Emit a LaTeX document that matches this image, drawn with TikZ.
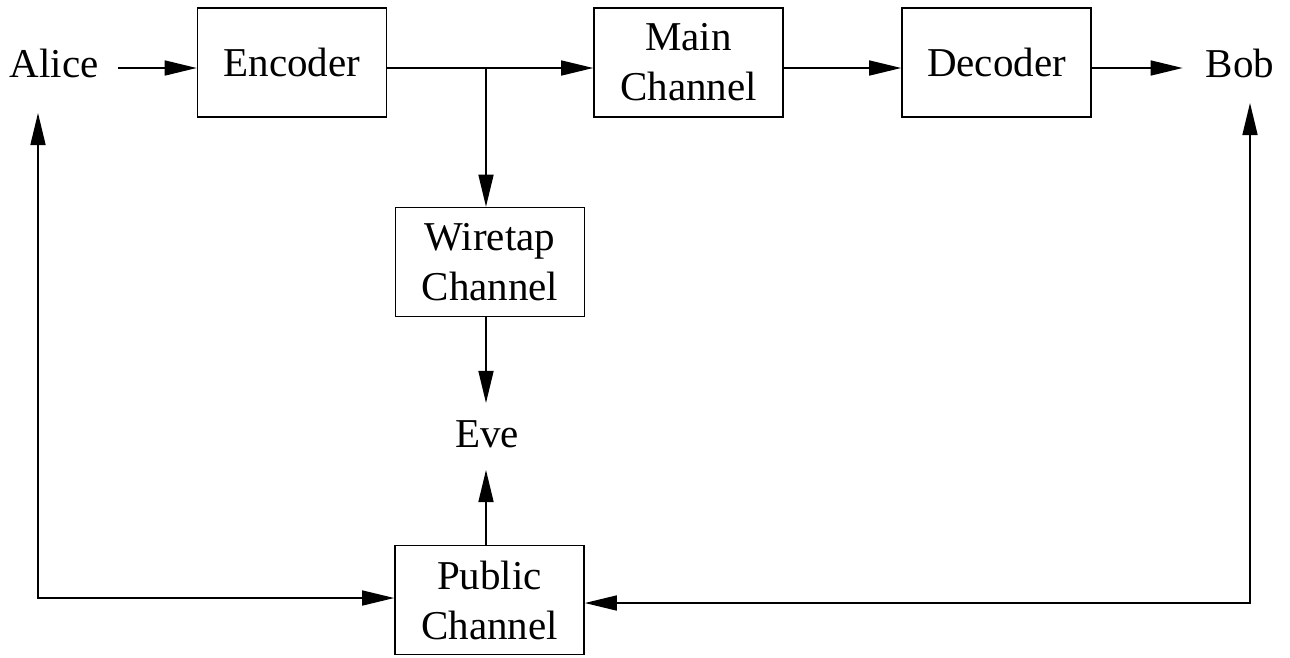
\documentclass[tikz,border=0pt]{standalone}
\usepackage{fontspec}
\setmainfont{Liberation Serif}
\usetikzlibrary{arrows.meta}
\begin{document}
\begin{tikzpicture}[x=1pt,y=-1pt,
  every node/.style={font=\fontsize{41}{50}\selectfont},
  box/.style={draw,line width=1.6pt,minimum width=189pt,minimum height=109pt,inner sep=0pt,align=center},
  lbl/.style={inner sep=0pt,anchor=base},
  arr/.style={line width=1.6pt,line cap=rect,-{Triangle[length=32pt,width=15pt]}},
  ln/.style={line width=1.6pt,line cap=rect}]
\useasboundingbox (0,0) rectangle (1290,657);
\node[lbl] (Alice) at (54,77) {Alice};
\node[box] (enc) at (292,62.5) {Encoder};
\node[box] (main) at (688.5,62.5) {Main\\Channel};
\node[box] (dec) at (996.5,62.5) {Decoder};
\node[lbl] (Bob) at (1240,77) {Bob};
\node[box] (wire) at (490,262) {Wiretap\\Channel};
\node[lbl] (Eve) at (487,447) {Eve};
\node[box] (pub) at (489.5,600) {Public\\Channel};
\coordinate (br) at (486,68);
\coordinate (ac) at (38,598);
\coordinate (bc) at (1250,603);
\draw[arr,shorten <=20pt] (Alice.east |- br) -- (enc.west |- br);
\draw[ln] (enc.east |- br) -- (br);
\draw[arr] (br) -- (main.west |- br);
\draw[arr] (br) -- (br |- wire.north);
\draw[arr] (main.east |- br) -- (dec.west |- br);
\draw[arr,shorten >=23pt] (dec.east |- br) -- (Bob.west |- br);
\draw[arr,shorten >=17pt] (wire.south -| br) -- (br |- Eve.north);
\draw[arr,shorten >=23pt] (pub.north -| br) -- (br |- Eve.base);
\draw[arr,shorten >=36pt] (ac) -- (ac |- Alice.base);
\draw[arr] (ac) -- (pub.west |- ac);
\draw[arr,shorten >=26pt] (bc) -- (bc |- Bob.base);
\draw[arr] (bc) -- (pub.east |- bc);
\end{tikzpicture}
\end{document}
